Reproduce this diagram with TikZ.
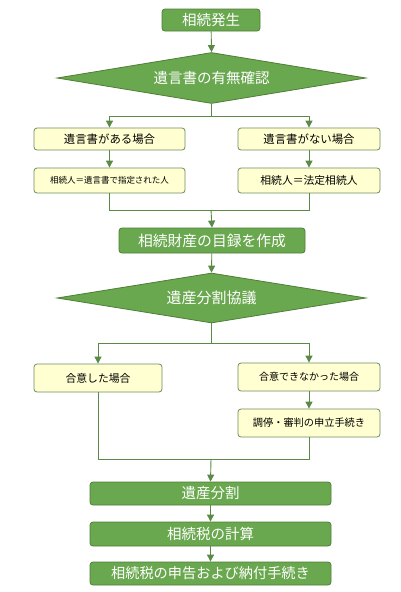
\documentclass[tikz,border=0pt]{standalone}
\usepackage{fontspec}
\setmainfont{Noto Sans CJK JP}
\usetikzlibrary{shapes.geometric,arrows.meta}
\definecolor{gfill}{HTML}{6AA84F}
\definecolor{gdraw}{HTML}{4F7E34}
\definecolor{yfill}{HTML}{FFFFD2}
\definecolor{ydraw}{HTML}{6E8C5E}
\definecolor{lcol}{HTML}{5A8A45}
\newcommand{\fs}[1]{\fontsize{#1}{#1}\selectfont}
\tikzset{
  gbox/.style={draw=gdraw, fill=gfill, rounded corners=3pt, text=white, inner sep=0pt, line width=0.8pt},
  ybox/.style={draw=ydraw, fill=yfill, rounded corners=3pt, text=black, inner sep=0pt, line width=0.8pt},
  gdia/.style={draw=gdraw, fill=gfill, shape=diamond, text=white, inner sep=0pt, line width=0.8pt, aspect=6},
  conn/.style={draw=lcol, line width=0.9pt},
  arr/.style={conn, -{Triangle[length=7pt,width=7pt]}},
}
\begin{document}
\begin{tikzpicture}[x=1pt,y=-1pt]
\useasboundingbox (0,0) rectangle (400,592);
\fill[white] (0,0) rectangle (400,592);
\node[gbox, minimum width=98pt, minimum height=22pt, font=\fs{14.5}] (start) at (211,20) {相続発生};
\node[gdia, minimum width=309pt, minimum height=51pt, font=\fs{14.5}] (d1) at (211.5,78) {遺言書の有無確認};
\node[ybox, minimum width=151pt, minimum height=22pt, font=\fs{11.4}] (a1) at (109.5,139) {遺言書がある場合};
\node[ybox, minimum width=142pt, minimum height=22pt, font=\fs{11.4}] (b1) at (309,139) {遺言書がない場合};
\node[ybox, minimum width=151pt, minimum height=25pt, font=\fs{8.5}] (a2) at (109.5,180.5) {相続人＝遺言書で指定された人};
\node[ybox, minimum width=142pt, minimum height=25pt, font=\fs{10.8}] (b2) at (309,180.5) {相続人＝法定相続人};
\node[gbox, minimum width=186pt, minimum height=25pt, font=\fs{14.8}] (c) at (212,240.5) {相続財産の目録を作成};
\node[gdia, minimum width=309pt, minimum height=50pt, font=\fs{15}] (d2) at (211.5,298) {遺産分割協議};
\node[ybox, minimum width=128pt, minimum height=28pt, font=\fs{10.8}] (e1) at (98,378) {合意した場合};
\node[ybox, minimum width=142pt, minimum height=28pt, font=\fs{10}] (f1) at (309,377) {合意できなかった場合};
\node[ybox, minimum width=142pt, minimum height=28pt, font=\fs{10.2}] (f2) at (309,423) {調停・審判の申立手続き};
\node[gbox, minimum width=241pt, minimum height=23pt, font=\fs{14.5}] (g) at (210.5,493.5) {遺産分割};
\node[gbox, minimum width=241pt, minimum height=24pt, font=\fs{14.5}] (h) at (210.5,534) {相続税の計算};
\node[gbox, minimum width=241pt, minimum height=23pt, font=\fs{14.2}] (i) at (210.5,573.5) {相続税の申告および納付手続き};
\coordinate (s1) at (211.5,116);
\coordinate (m1) at (211,210);
\coordinate (s2) at (211.5,343);
\coordinate (m2) at (211,459);
\draw[arr] (start) -- (d1.north);
\draw[conn] (d1.south) -- (s1);
\draw[arr] (s1) -| (a1.north);
\draw[arr] (s1) -| (b1.north);
\draw[arr] (a1) -- (a2);
\draw[arr] (b1) -- (b2);
\draw[conn] (a2.south) |- (m1);
\draw[conn] (b2.south) |- (m1);
\draw[arr] (m1) -- (c.north);
\draw[arr] (c) -- (d2.north);
\draw[conn] (d2.south) -- (s2);
\draw[arr] (s2) -| (e1.north);
\draw[arr] (s2) -| (f1.north);
\draw[arr] (f1) -- (f2);
\draw[conn] (e1.south) |- (m2);
\draw[conn] (f2.south) |- (m2);
\draw[arr] (m2) -- (g.north);
\draw[arr] (g) -- (h);
\draw[arr] (h) -- (i);
\end{tikzpicture}
\end{document}
